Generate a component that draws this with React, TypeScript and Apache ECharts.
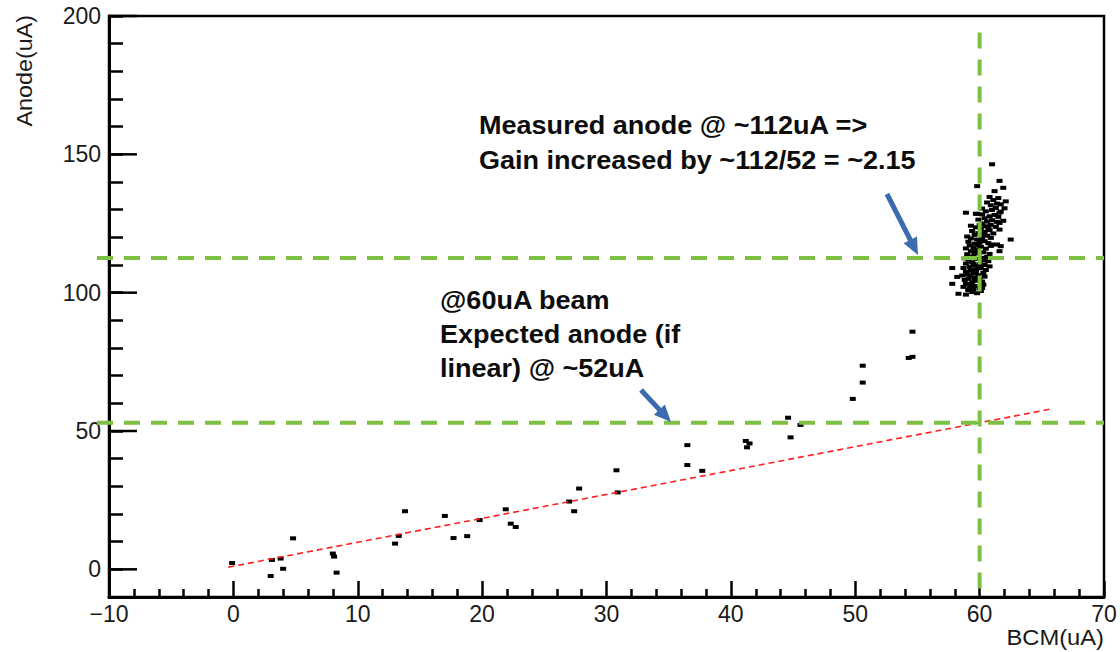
import React, { useEffect, useRef } from "react";
import * as echarts from "echarts";

// Anode current vs BCM beam current: low-current scan points
const lowBeamPoints: [number, number][] = [
  [-0.1, 2.3], [3.0, -2.4], [3.1, 3.4], [3.8, 3.9], [4.0, 0.2], [4.8, 11.2],
  [8.0, 5.7], [8.1, 4.6], [8.3, -1.2], [13.0, 9.3], [13.3, 12.1], [13.8, 21.0],
  [17.0, 19.3], [17.7, 11.3], [18.8, 12.0], [19.8, 17.8], [21.9, 21.7], [22.3, 16.5],
  [22.7, 15.3], [27.0, 24.5], [27.4, 21.0], [27.8, 29.2], [30.8, 35.8], [30.9, 27.8],
  [36.5, 44.9], [36.5, 37.7], [37.7, 35.6], [41.2, 46.4], [41.3, 44.1], [41.5, 45.5],
  [44.6, 54.8], [44.8, 47.7], [45.6, 52.2], [49.8, 61.6], [50.6, 67.5], [50.6, 73.6],
  [54.3, 76.4], [54.6, 76.8], [54.6, 85.9],
];

// Readings taken at ~60 uA beam
const beamClusterPoints: [number, number][] = [
  [58.9, 99.3], [59.4, 100.2], [59.8, 99.8], [60.1, 100.6], [59.1, 100.9],
  [58.7, 102.1], [59.2, 101.8], [59.6, 102.4], [60.0, 101.6], [60.3, 102.9], [58.9, 103.2],
  [59.4, 103.7], [59.8, 104.3], [60.2, 104.0], [58.8, 104.6], [59.1, 105.0], [59.6, 105.4], [60.4, 105.8],
  [58.6, 106.2], [59.0, 106.6], [59.5, 106.9], [59.9, 106.3], [60.3, 107.1], [58.9, 107.6],
  [59.3, 108.0], [59.7, 108.4], [60.1, 108.8], [60.5, 108.2], [58.7, 108.9], [59.2, 109.3],
  [59.6, 109.8], [60.0, 110.3], [60.4, 110.0], [58.9, 110.5], [59.4, 111.0], [60.7, 111.4],
  [59.1, 111.9], [59.8, 112.2], [60.2, 112.6], [60.6, 112.9], [58.8, 112.4], [59.5, 113.3],
  [59.0, 113.9], [59.9, 114.2], [60.3, 114.6], [60.8, 114.0], [59.3, 115.0], [59.7, 115.4],
  [58.9, 116.0], [59.5, 116.3], [60.1, 116.6], [60.5, 115.9], [59.2, 117.1], [60.9, 116.9],
  [59.6, 117.7], [60.0, 118.2], [60.4, 118.6], [59.1, 118.4], [60.7, 117.9], [59.8, 119.2],
  [59.3, 119.6], [60.2, 120.0], [60.6, 120.6], [59.6, 120.9], [60.9, 119.8], [59.0, 120.3],
  [59.9, 121.5], [60.4, 122.0], [60.8, 122.6], [59.4, 122.3], [61.1, 121.4], [60.1, 123.1],
  [59.7, 123.6], [60.5, 124.0], [60.9, 124.5], [59.3, 124.2], [61.3, 123.8], [60.2, 125.0],
  [60.6, 125.7], [61.0, 126.2], [59.9, 126.4], [61.4, 125.6], [60.4, 126.9],
  [60.8, 127.6], [61.2, 128.1], [60.2, 128.3], [61.5, 127.4], [59.8, 128.5],
  [60.5, 129.4], [61.0, 129.9], [61.3, 130.6], [60.2, 130.4], [61.7, 129.3],
  [60.9, 131.6], [61.4, 132.2], [61.7, 131.9], [60.6, 132.6],
  [61.1, 133.5], [61.5, 134.2], [60.8, 134.6],
  [59.3, 102.8], [59.6, 104.9], [59.2, 106.1], [59.7, 107.3], [59.5, 110.4], [59.2, 112.8],
  [59.6, 114.6], [59.9, 117.0], [60.2, 119.1], [60.3, 121.2], [60.0, 124.4], [60.7, 123.3],
  [60.3, 111.6], [59.9, 109.1], [60.0, 105.1], [59.5, 101.3],
  [61.0, 146.4], [59.8, 138.5], [61.6, 140.4], [61.2, 136.7], [58.9, 128.9], [59.7, 128.5],
  [61.6, 122.8], [62.5, 119.2], [61.7, 116.8], [61.4, 117.4], [61.6, 115.0], [60.8, 109.5],
  [57.8, 108.9], [58.2, 105.7], [57.8, 103.2], [58.3, 99.6], [59.1, 101.1], [60.2, 101.7],
  [61.6, 125.2], [61.0, 117.4], [61.6, 128.9], [62.1, 133.0], [61.9, 126.0], [61.9, 137.9],
  [62.0, 130.5],
];

// Linear extrapolation from the low-current points
const linearTrend: [number, number][] = [
  [-0.4, 0.8],
  [65.8, 58.0],
];

const measuredAnode = 112.5;
const expectedAnode = 53;
const beamCurrent = 60;
const beamLineTop = 194;

const xMin = -10;
const xMax = 70;
const yMin = -10;
const yMax = 200;
const yLabelTicks = [0, 50, 100, 150, 200];

const topNote = ["Measured anode @ ~112uA =>", "Gain increased by ~112/52 = ~2.15"];
const sideNote = ["@60uA beam", "Expected anode (if", "linear) @ ~52uA"];

const FONT = "'Liberation Sans', Arial, Helvetica, sans-serif";
const GREEN = "#7dc043";
const BLUE = "#3c6cae";

function arrowPolygon(tail: number[], tip: number[], shaft: number, headLen: number, headW: number) {
  const dx = tip[0] - tail[0];
  const dy = tip[1] - tail[1];
  const len = Math.hypot(dx, dy);
  const ux = dx / len;
  const uy = dy / len;
  const nx = -uy;
  const ny = ux;
  const bx = tip[0] - ux * headLen;
  const by = tip[1] - uy * headLen;
  return [
    [tail[0] + (nx * shaft) / 2, tail[1] + (ny * shaft) / 2],
    [bx + (nx * shaft) / 2, by + (ny * shaft) / 2],
    [bx + (nx * headW) / 2, by + (ny * headW) / 2],
    [tip[0], tip[1]],
    [bx - (nx * headW) / 2, by - (ny * headW) / 2],
    [bx - (nx * shaft) / 2, by - (ny * shaft) / 2],
    [tail[0] - (nx * shaft) / 2, tail[1] - (ny * shaft) / 2],
  ];
}

export default function App() {
  const ref = useRef<HTMLDivElement>(null);

  useEffect(() => {
    if (!ref.current) return;
    const chart = echarts.init(ref.current, undefined, { renderer: "svg" });

    const tickLine = { color: "#000", width: 2.5 };
    const axisText = { fontSize: 23, color: "#1a1a1a", fontFamily: FONT };
    const pointStyle = {
      symbol: "rect",
      symbolSize: [6, 4],
      itemStyle: { color: "#000", opacity: 1 },
      z: 2,
    };

    chart.setOption({
      animation: false,
      grid: {
        left: 109,
        top: 16,
        right: 16,
        bottom: 55,
        show: true,
        borderColor: "#000",
        borderWidth: 2.5,
        backgroundColor: "transparent",
      },
      xAxis: {
        type: "value",
        min: xMin,
        max: xMax,
        interval: 10,
        axisLine: { show: true, onZero: false, lineStyle: { color: "#000", width: 3 } },
        axisTick: { show: true, inside: true, length: 16, lineStyle: tickLine },
        minorTick: { show: true, splitNumber: 5, length: 8, lineStyle: tickLine },
        splitLine: { show: false },
        axisLabel: {
          ...axisText,
          margin: 5,
          formatter: (v: number) => (v < 0 ? "\u2212" + Math.abs(v) : String(v)),
        },
      },
      yAxis: {
        type: "value",
        min: yMin,
        max: yMax,
        interval: 10,
        axisLine: { show: true, onZero: false, lineStyle: { color: "#000", width: 3 } },
        axisTick: { show: true, inside: true, length: 14, lineStyle: tickLine },
        splitLine: { show: false },
        axisLabel: {
          ...axisText,
          margin: 8,
          formatter: (v: number) => (yLabelTicks.includes(v) ? String(v) : ""),
        },
      },
      series: [
        { type: "scatter", data: lowBeamPoints, ...pointStyle },
        { type: "scatter", data: beamClusterPoints, ...pointStyle },
        {
          type: "line",
          data: linearTrend,
          showSymbol: false,
          symbol: "none",
          lineStyle: { color: "#ff1f1f", width: 1.6, type: [6, 4] },
          z: 3,
        },
      ],
    });

    const px = (x: number) => chart.convertToPixel({ xAxisIndex: 0 }, x) as number;
    const py = (y: number) => chart.convertToPixel({ yAxisIndex: 0 }, y) as number;

    const graphics: any[] = [];

    // longer major ticks on the y axis
    yLabelTicks.forEach((v) => {
      graphics.push({
        type: "line",
        z: 50,
        shape: { x1: px(xMin), y1: py(v), x2: px(xMin) + 28, y2: py(v) },
        style: { stroke: "#000", lineWidth: 2.5 },
      });
    });

    // guide lines at the measured / expected anode currents and the beam current
    [measuredAnode, expectedAnode].forEach((v) => {
      graphics.push({
        type: "line",
        z: 60,
        shape: { x1: px(xMin) - 12, y1: py(v), x2: px(xMax), y2: py(v) },
        style: { stroke: GREEN, lineWidth: 4, lineDash: [16, 11] },
      });
    });
    graphics.push({
      type: "line",
      z: 60,
      shape: { x1: px(beamCurrent), y1: py(beamLineTop), x2: px(beamCurrent), y2: py(yMin) },
      style: { stroke: GREEN, lineWidth: 4, lineDash: [16, 11] },
    });

    // arrows
    graphics.push({
      type: "polygon",
      z: 70,
      shape: { points: arrowPolygon([887, 194], [918, 255], 5, 17, 15) },
      style: { fill: BLUE },
    });
    graphics.push({
      type: "polygon",
      z: 70,
      shape: { points: arrowPolygon([641, 390], [671, 422], 5, 17, 15) },
      style: { fill: BLUE },
    });

    const note = (text: string, x: number, y: number) => ({
      type: "text",
      z: 80,
      x,
      y,
      scaleX: 1.04,
      style: {
        text,
        fill: "#0d0d0d",
        fontSize: 26,
        fontWeight: "bold",
        fontFamily: FONT,
        align: "left",
        verticalAlign: "middle",
        textAlign: "left",
        textVerticalAlign: "middle",
      },
    });
    topNote.forEach((t, i) => graphics.push(note(t, 479, 125 + i * 35)));
    sideNote.forEach((t, i) => graphics.push(note(t, 440, 300 + i * 34)));

    // axis titles
    graphics.push({
      type: "text",
      z: 80,
      x: 24,
      y: 15,
      rotation: Math.PI / 2,
      scaleX: 1.06,
      style: {
        text: "Anode(uA)",
        fill: "#1a1a1a",
        fontSize: 22,
        fontFamily: FONT,
        align: "right",
        verticalAlign: "middle",
        textAlign: "right",
        textVerticalAlign: "middle",
      },
    });
    graphics.push({
      type: "text",
      z: 80,
      x: 1104,
      y: 637,
      scaleX: 1.08,
      style: {
        text: "BCM(uA)",
        fill: "#1a1a1a",
        fontSize: 22,
        fontFamily: FONT,
        align: "right",
        verticalAlign: "middle",
        textAlign: "right",
        textVerticalAlign: "middle",
      },
    });

    chart.setOption({ graphic: { elements: graphics } });

    return () => chart.dispose();
  }, []);

  return (
    <div
      ref={ref}
      style={{ position: "absolute", left: 0, top: 0, width: 1120, height: 652, background: "#fff" }}
    />
  );
}
